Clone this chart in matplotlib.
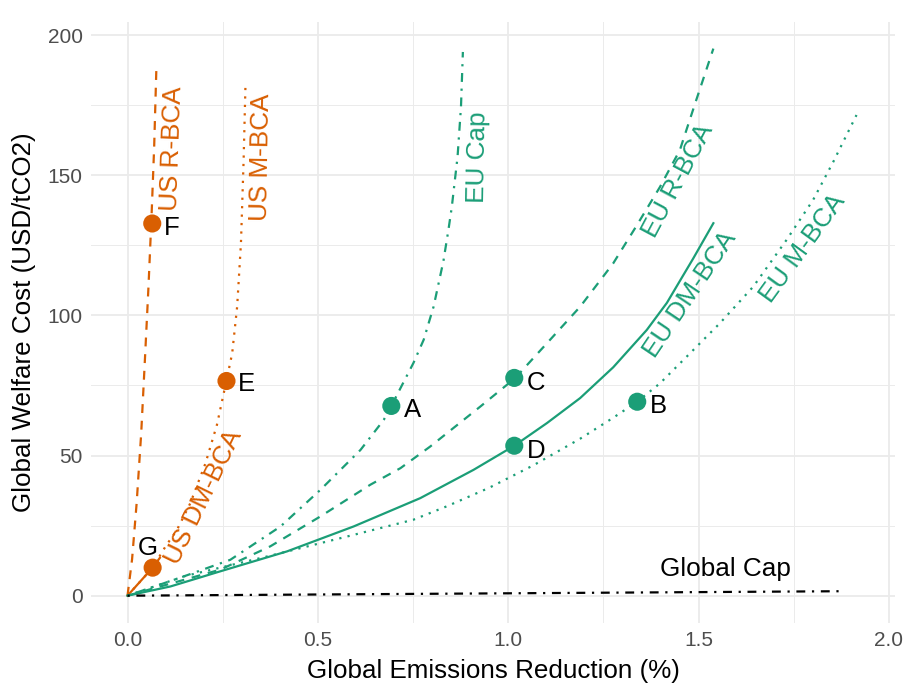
import matplotlib
matplotlib.use("Agg")
from matplotlib import pyplot as plt

ORANGE = "#D95F02"
GREEN = "#1B9E77"

# curves: (x = global emissions reduction %, y = welfare cost USD/tCO2)
us_r_bca_x = [0, 0.012, 0.024, 0.036, 0.046, 0.055, 0.063, 0.070, 0.076]
us_r_bca_y = [0, 13, 33, 58, 85, 110, 135, 160, 189]

us_m_bca_x = [0, 0.066, 0.10, 0.13, 0.165, 0.205, 0.235, 0.26, 0.275, 0.288, 0.298, 0.305, 0.31]
us_m_bca_y = [0, 10, 17.6, 23.5, 33, 47.3, 61, 76.8, 86.5, 103.1, 125.7, 155.4, 182.8]

us_dm_bca_x = [0, 0.066, 0.085]
us_dm_bca_y = [0, 10, 13.5]

eu_cap_x = [0, 0.14, 0.27, 0.402, 0.507, 0.612, 0.673, 0.693, 0.751, 0.778, 0.804, 0.83,
            0.843, 0.852, 0.867, 0.876, 0.881]
eu_cap_y = [0, 6.5, 12.8, 24.7, 37.8, 52, 62.7, 67.7, 83, 91.3, 103.1, 119.5,
            130.5, 138.8, 156.6, 174.4, 194]

eu_r_bca_x = [0, 0.244, 0.375, 0.507, 0.638, 0.717, 0.795, 0.927, 1.018, 1.102, 1.189,
              1.276, 1.335, 1.399, 1.451, 1.491, 1.539]
eu_r_bca_y = [0, 9.3, 17.6, 28.3, 39.6, 45.5, 53.2, 67.5, 77.6, 90.1, 103.1,
              118.6, 131.5, 145.9, 159, 175.6, 195.2]

eu_dm_bca_x = [0, 0.113, 0.244, 0.419, 0.594, 0.769, 0.909, 1.016, 1.102, 1.189, 1.276,
               1.364, 1.417, 1.451, 1.486, 1.539]
eu_dm_bca_y = [0, 3.3, 8.7, 15.8, 24.7, 34.8, 44.9, 53.5, 61.6, 70.5, 81.5,
               94.8, 104.5, 112.3, 120.3, 132.9]

eu_m_bca_x = [0, 0.148, 0.367, 0.594, 0.751, 0.839, 0.95, 1.066, 1.189, 1.276, 1.339, 1.399,
              1.469, 1.556, 1.644, 1.731, 1.801, 1.854, 1.915]
eu_m_bca_y = [0, 6.9, 14.0, 21.7, 27.1, 31.9, 38.5, 46.5, 56, 63.5, 69.2, 75.8,
              85.3, 97.2, 110.3, 126.9, 141.2, 154.8, 171.5]

global_cap_x = [0, 1.885]
global_cap_y = [0, 1.6]

# highlighted scenarios
pt_names = ["A", "B", "C", "D", "E", "F", "G"]
pt_x = [0.693, 1.339, 1.016, 1.016, 0.26, 0.065, 0.066]
pt_y = [67.7, 69.2, 77.7, 53.5, 76.6, 132.8, 10]
pt_colors = [GREEN, GREEN, GREEN, GREEN, ORANGE, ORANGE, ORANGE]
pt_lab_x = [0.748, 1.394, 1.073, 1.073, 0.312, 0.115, 0.052]
pt_lab_y = [66.3, 67.7, 75.9, 51.7, 75.6, 131.2, 17.1]

# curve labels
curve_labels = ["US R-BCA", "US M-BCA", "US DM-BCA", "EU Cap", "EU R-BCA", "EU DM-BCA", "EU M-BCA", "Global Cap"]
curve_lab_x = [0.118, 0.352, 0.20, 0.919, 1.446, 1.478, 1.774, 1.572]
curve_lab_y = [159.7, 156.5, 35.3, 156.5, 148, 107.3, 124, 9.6]
curve_lab_rot = [88, 89, 64, 89, 62, 56, 54, 0]
curve_lab_col = [ORANGE, ORANGE, ORANGE, GREEN, GREEN, GREEN, GREEN, "black"]

plt.rcParams['font.family'] = ['Liberation Sans', 'DejaVu Sans']

fig = plt.figure(figsize=(9.06, 6.91), dpi=100)
ax = fig.add_axes([0.1004, 0.0984, 0.8874, 0.870])

LW = 1.6
dashed = dict(ls=(0, (4, 3.5)))
dotted = dict(ls=(0, (1, 2.8)))
dotdash = dict(ls=(0, (1, 3, 4, 3)))

ax.plot(us_r_bca_x, us_r_bca_y, color=ORANGE, lw=LW, **dashed)
ax.plot(us_m_bca_x, us_m_bca_y, color=ORANGE, lw=LW, **dotted)
ax.plot(us_dm_bca_x, us_dm_bca_y, color=ORANGE, lw=LW, ls="-")
ax.plot(eu_cap_x, eu_cap_y, color=GREEN, lw=LW, **dotdash)
ax.plot(eu_r_bca_x, eu_r_bca_y, color=GREEN, lw=LW, **dashed)
ax.plot(eu_dm_bca_x, eu_dm_bca_y, color=GREEN, lw=LW, ls="-")
ax.plot(eu_m_bca_x, eu_m_bca_y, color=GREEN, lw=LW, **dotted)
ax.plot(global_cap_x, global_cap_y, color="black", lw=LW, **dotdash)

ax.scatter(pt_x, pt_y, s=170, c=pt_colors, zorder=5, linewidths=0)
for name, lx, ly in zip(pt_names, pt_lab_x, pt_lab_y):
    ax.text(lx, ly, name, fontsize=18.5, ha="center", va="center", color="black")

for txt, lx, ly, rot, col in zip(curve_labels, curve_lab_x, curve_lab_y, curve_lab_rot, curve_lab_col):
    ax.text(lx, ly, txt, fontsize=18.8, ha="center", va="center", rotation=rot,
            rotation_mode="anchor", color=col)

ax.set_xlim(-0.096, 2.016)
ax.set_ylim(-9.75, 204.75)
ax.set_xticks([0, 0.5, 1.0, 1.5, 2.0])
ax.set_xticklabels(["0.0", "0.5", "1.0", "1.5", "2.0"])
ax.set_yticks([0, 50, 100, 150, 200])
ax.set_xticks([0.25, 0.75, 1.25, 1.75], minor=True)
ax.set_yticks([25, 75, 125, 175], minor=True)
ax.grid(which="major", color="#EBEBEB", lw=1.3)
ax.grid(which="minor", color="#EBEBEB", lw=0.7)
ax.set_axisbelow(True)
ax.tick_params(which="both", length=0, labelsize=15, labelcolor="#4D4D4D", pad=6)
for sp in ax.spines.values():
    sp.set_visible(False)

ax.set_xlabel("Global Emissions Reduction (%)", fontsize=18.7, labelpad=6)
ax.set_ylabel("Global Welfare Cost (USD/tCO2)", fontsize=18.7, labelpad=8)

fig.savefig("out.png", dpi=100)
